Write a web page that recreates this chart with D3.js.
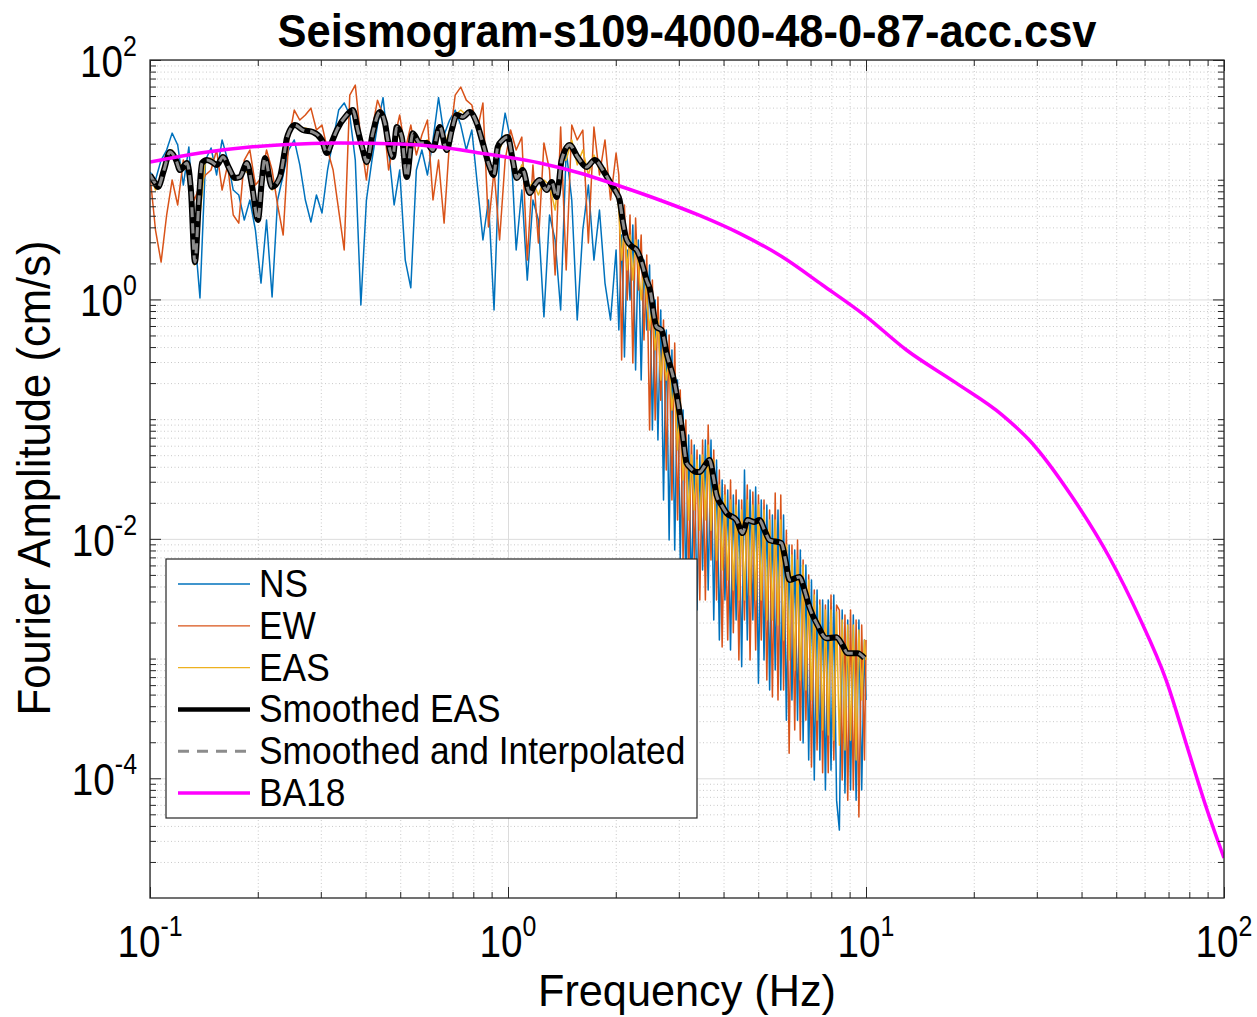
<!DOCTYPE html>
<html>
<head>
<meta charset="utf-8">
<script src="https://cdn.jsdelivr.net/npm/d3@7"></script>
<style>
  body { margin: 0; background: #fff; }
  text { font-family: "Liberation Sans", Arial, Helvetica, sans-serif; fill: #000; }
</style>
</head>
<body>
<svg width="1257" height="1017"></svg>
<script>
// shared frequency grid of the raw spectra (Hz)
const freq = [
  0.1000,0.1036,0.1074,0.1113,0.1153,0.1195,0.1239,0.1284,0.1330,0.1379,
  0.1429,0.1481,0.1535,0.1590,0.1648,0.1708,0.1770,0.1834,0.1901,0.1970,
  0.2042,0.2116,0.2193,0.2272,0.2355,0.2440,0.2529,0.2621,0.2716,0.2815,
  0.2917,0.3023,0.3133,0.3247,0.3365,0.3487,0.3614,0.3745,0.3882,0.4023,
  0.4169,0.4320,0.4477,0.4640,0.4808,0.4983,0.5164,0.5352,0.5546,0.5747,
  0.5957,0.6173,0.6397,0.6630,0.6871,0.7120,0.7379,0.7647,0.7925,0.8213,
  0.8511,0.8820,0.9141,0.9473,0.9817,1.017,1.054,1.093,1.132,1.174,
  1.216,1.260,1.306,1.354,1.403,1.454,1.507,1.561,1.618,1.677,
  1.738,1.801,1.866,1.934,2.004,
  2.040,2.077,2.115,2.153,2.192,2.232,2.272,2.313,2.355,2.398,
  2.441,2.486,2.531,2.577,2.623,2.671,2.719,2.768,2.819,2.870,
  2.922,2.975,3.028,3.083,3.139,3.196,3.254,3.313,3.373,3.434,
  3.496,3.559,3.624,3.690,3.756,3.824,3.894,3.964,4.036,4.109,
  4.184,4.260,4.337,4.415,4.495,4.577,4.660,4.744,4.830,4.918,
  5.007,5.098,5.190,5.284,5.380,5.477,5.577,5.678,5.780,5.885,
  5.992,6.100,6.211,6.323,6.438,6.554,6.673,6.794,6.917,7.042,
  7.170,7.300,7.432,7.566,7.703,7.843,7.985,8.129,8.276,8.426,
  8.579,8.734,8.892,9.053,9.217,9.384,9.554,9.727,9.903,10.0
];

const nsAmp = [
  11.6,9.94,14.6,17.7,24.5,19.5,9.03,18.8,3.80,1.03,
  14.6,18.4,10.95,21.5,14.6,8.20,7.45,4.61,6.77,3.80,
  1.37,4.61,1.05,6.77,10.95,17.7,21.5,13.3,6.77,4.43,
  7.45,5.27,12.05,21.5,38.2,43.8,34.7,14.6,0.898,6.77,
  14.6,28.6,48.5,17.7,6.15,12.05,2.13,1.25,12.05,17.7,
  10.95,21.5,48.5,23.6,31.5,38.2,28.6,17.7,26.0,9.03,
  3.14,6.77,0.815,17.7,36.0,21.5,2.59,8.20,1.45,6.77,
  4.61,0.715,5.07,3.14,0.815,17.7,6.77,0.673,3.80,9.03,
  2.13,5.58,1.37,0.673,2.59,
  0.555,3.45,0.331,2.59,0.99,4.18,0.257,3.14,0.212,2.13,
  0.555,1.94,0.0811,0.99,0.0669,0.815,0.0211,0.555,0.00977,0.378,
  0.00806,0.212,0.00665,0.119,0.00374,0.0737,0.00308,0.0608,0.00254,0.0501,
  0.00549,0.0669,0.00374,0.0669,0.00210,0.0455,0.00143,0.0310,0.00308,0.0256,
  0.00118,0.0232,0.00210,0.0211,0.000854,0.0376,0.00143,0.0256,0.00210,0.0271,
  0.000623,0.0211,0.000972,0.0192,0.000546,0.0158,0.000801,0.0174,0.000546,0.0158,
  0.000306,0.00887,0.000450,0.00806,0.000306,0.00806,0.000197,0.00604,0.000142,0.00453,
  0.0000966,0.00374,0.000142,0.00308,0.0000797,0.00308,0.000117,0.00340,0.0000657,0.0000369,
  0.00254,0.0000753,0.00210,0.0000797,0.00231,0.0000657,0.00210,0.0000797,0.00143,0.000450
];

const ewAmp = [
  10.95,3.80,2.05,5.07,9.94,6.15,14.6,10.3,6.77,9.03,
  10.95,12.05,17.7,8.20,13.3,5.07,4.34,14.6,17.7,9.03,
  10.3,17.7,12.05,6.15,3.45,21.5,38.2,31.5,34.7,39.6,
  26.0,28.6,17.7,12.05,5.58,2.59,50.9,61.7,21.5,9.94,
  26.0,46.2,34.7,12.05,21.5,34.7,17.7,28.6,16.1,23.6,
  31.5,6.77,14.6,4.34,21.5,50.9,59.4,46.2,42.1,26.0,
  43.8,4.03,12.05,3.14,14.6,26.0,17.7,22.7,2.13,13.3,
  2.96,20.3,12.05,1.60,27.5,1.76,28.6,21.5,26.0,2.96,
  27.5,10.95,21.5,6.77,16.7,
  10.95,0.312,6.15,0.99,5.07,0.295,4.78,1.20,3.45,0.458,
  2.35,0.0811,1.45,0.0983,1.05,0.144,0.673,0.0376,0.504,0.0211,
  0.433,0.0144,0.175,0.00665,0.0983,0.00453,0.0669,0.00665,0.0552,0.00308,
  0.0669,0.00308,0.0893,0.00665,0.0552,0.00308,0.0376,0.00125,0.0282,0.00143,
  0.0310,0.00164,0.0256,0.000972,0.0211,0.00210,0.0282,0.000972,0.0246,0.00118,
  0.0232,0.00143,0.0211,0.000661,0.0174,0.000478,0.0241,0.000450,0.0232,0.000546,
  0.0118,0.000162,0.00887,0.000253,0.00977,0.000208,0.00665,0.000306,0.00498,0.000124,
  0.00374,0.000172,0.00308,0.000111,0.00280,0.000111,0.00340,0.000142,0.00280,0.00254,
  0.0000966,0.00231,0.0000657,0.00254,0.0000797,0.00210,0.0000474,0.00191,0.000142,0.00143
];

const easAmp = [
  10.95,8.20,9.94,13.3,17.7,14.6,12.05,13.3,1.94,5.07,
  14.6,15.2,13.8,16.1,13.3,9.94,10.3,12.05,10.95,5.07,
  6.77,14.6,8.20,9.6,12.05,23.6,28.6,26.0,27.0,26.0,
  23.6,22.3,17.7,20.7,26.0,32.2,38.2,34.7,17.7,13.3,
  21.5,34.7,36.8,19.5,17.0,27.0,10.95,17.7,21.5,20.3,
  21.5,17.0,27.0,18.4,26.0,34.7,38.2,34.7,36.8,27.0,
  21.5,12.05,10.95,17.7,23.6,19.5,9.94,13.3,8.20,9.6,
  7.45,9.94,9.03,5.58,14.6,14.6,21.5,13.3,17.7,10.95,
  16.1,12.05,12.5,8.20,9.03,
  5.58,2.13,4.18,1.76,3.45,1.45,3.14,1.94,0.99,1.94,
  0.99,0.555,0.99,0.378,0.673,0.212,0.416,0.212,0.312,0.119,
  0.212,0.0552,0.144,0.0310,0.0669,0.0144,0.0501,0.0174,0.0455,0.0118,
  0.0501,0.0144,0.0608,0.0118,0.0455,0.00665,0.0282,0.00549,0.0232,0.00453,
  0.0211,0.00374,0.0192,0.00308,0.0174,0.00308,0.0211,0.00340,0.0192,0.00308,
  0.0192,0.00308,0.0174,0.00210,0.0144,0.00210,0.0144,0.00191,0.0144,0.00143,
  0.00887,0.000972,0.00732,0.000801,0.00665,0.000661,0.00604,0.000546,0.00453,0.000450,
  0.00340,0.000306,0.00280,0.000253,0.00254,0.000230,0.00254,0.000208,0.00245,0.000189,
  0.00210,0.000172,0.00191,0.000208,0.00191,0.000142,0.00173,0.000450,0.00143,0.000972
];

// smoothed EAS (the interpolated curve sits on top of it)
const smoothFreq = [
  0.1,0.1033,0.1053,0.1094,0.1137,0.1182,0.1213,0.1268,0.1301,0.1335,
  0.137,0.1397,0.1442,0.1489,0.1538,0.1599,0.1662,0.1727,0.1783,0.1865,
  0.1926,0.2002,0.2054,0.2094,0.219,0.2306,0.2381,0.2412,0.2539,0.2673,
  0.285,0.302,0.3119,0.3221,0.3326,0.3546,0.3686,0.3806,0.393,0.4032,
  0.4191,0.4384,0.4527,0.4615,0.4766,0.489,0.505,0.5215,0.542,0.567,
  0.5931,0.6164,0.6448,0.6745,0.6965,0.7192,0.7475,0.7818,0.8178,0.85,
  0.889,0.9122,0.9361,0.9665,0.998,1.031,1.058,1.099,1.150,1.187,
  1.226,1.282,1.324,1.368,1.412,1.487,1.565,1.658,1.746,1.862,
  1.948,2.011,2.050,2.090,2.145,2.228,2.287,2.362,2.439,2.486,
  2.600,2.685,2.773,2.919,2.976,3.073,3.153,3.214,3.362,3.428,
  3.540,3.656,3.751,3.824,3.950,4.079,4.349,4.520,4.667,4.882,
  5.041,5.206,5.375,5.805,5.956,6.112,6.520,6.733,6.950,7.317,
  7.753,8.268,8.594,8.874,9.463,9.897
];
const smoothAmp = [
  10.95,9.39,8.69,12.05,17.04,14.61,12.05,13.79,8.20,2.05,
  6.77,13.79,14.61,14.06,13.27,15.47,12.52,10.33,10.53,13.79,
  9.03,4.61,9.94,15.18,8.69,10.53,17.71,22.3,28.6,26.0,
  25.0,21.5,16.7,20.65,26.0,34.7,38.2,26.0,17.71,14.06,
  24.5,36.8,30.3,21.5,15.47,27.6,22.7,10.53,24.5,20.3,
  20.3,17.71,27.6,17.71,26.0,34.7,33.4,36.8,29.8,20.3,
  12.77,10.95,18.76,21.5,22.7,14.61,10.33,12.05,7.74,9.03,
  9.94,8.20,9.57,7.17,14.61,19.5,15.47,12.77,14.61,11.38,
  9.03,7.74,6.77,4.61,3.14,2.74,2.59,2.05,1.45,1.245,
  0.588,0.555,0.357,0.200,0.1444,0.0766,0.0430,0.0398,0.0361,0.0361,
  0.0406,0.0455,0.0322,0.0232,0.01916,0.01642,0.01436,0.01118,0.01436,0.01381,
  0.01436,0.01184,0.00977,0.00922,0.00665,0.00453,0.00480,0.00374,0.00269,0.00191,
  0.00148,0.00151,0.0013,0.00111,0.00111,0.00101
];

// BA18 model
const ba18Freq = [0.1,0.1379,0.1901,0.2622,0.3391,0.4985,0.6448,0.8336,1.226,1.585,
  2.050,2.651,3.428,4.434,5.844,7.555,9.897,12.97,17.88,24.03,
  28.58,37.68,47.79,57.97,68.93,79.89,89.13,100];
const ba18Amp = [14.06,16.71,18.76,19.87,20.26,19.87,18.76,16.71,13.79,11.38,
  8.86,6.77,5.03,3.56,2.26,1.32,0.74,0.378,0.200,0.1082,
  0.0669,0.02234,0.00705,0.00222,0.000661,0.0001624,0.0000575,0.0000216];

const xLabelExp = [-1, 0, 1, 2];
const yLabelExp = [-4, -2, 0, 2];
const legendLabels = ["NS", "EW", "EAS", "Smoothed EAS", "Smoothed and Interpolated", "BA18"];

const plotL = 150, plotR = 1224, plotT = 60, plotB = 898;
const svg = d3.select("svg");
svg.append("rect").attr("width", 1257).attr("height", 1017).attr("fill", "#fff");

const x = d3.scaleLog().domain([0.1, 100]).range([plotL, plotR]);
const y = d3.scaleLog().domain([1e-5, 1e2]).range([plotB, plotT]);

const xMajor = xLabelExp.map(e => Math.pow(10, e));
const yMajor = yLabelExp.map(e => Math.pow(10, e));
const xMinor = [];
[0.1, 1, 10].forEach(dec => { for (let m = 2; m <= 9; m++) xMinor.push(m * dec); });
const yMinor = [];
for (let n = -5; n <= 1; n++) {
  for (let m = 1; m <= 9; m++) {
    if (m === 1 && (n === -5 || n % 2 === 0)) continue;
    yMinor.push(m * Math.pow(10, n));
  }
}

// grid
function grid(g, cls) {
  g.select(".domain").remove();
  g.selectAll(".tick line").attr("class", cls);
}
const gridG = svg.append("g");
gridG.append("g").attr("transform", `translate(0,${plotB})`)
  .call(d3.axisBottom(x).tickValues(xMinor).tickSize(-(plotB - plotT)).tickFormat(""))
  .call(grid, "minor");
gridG.append("g").attr("transform", `translate(${plotL},0)`)
  .call(d3.axisLeft(y).tickValues(yMinor).tickSize(-(plotR - plotL)).tickFormat(""))
  .call(grid, "minor");
gridG.append("g").attr("transform", `translate(0,${plotB})`)
  .call(d3.axisBottom(x).tickValues(xMajor).tickSize(-(plotB - plotT)).tickFormat(""))
  .call(grid, "major");
gridG.append("g").attr("transform", `translate(${plotL},0)`)
  .call(d3.axisLeft(y).tickValues(yMajor).tickSize(-(plotR - plotL)).tickFormat(""))
  .call(grid, "major");
gridG.selectAll("line.minor").attr("stroke", "#c9c9c9").attr("stroke-width", 1).attr("stroke-dasharray", "1,2.5");
gridG.selectAll("line.major").attr("stroke", "#dcdcdc").attr("stroke-width", 1);

// data
svg.append("clipPath").attr("id", "plot-clip")
  .append("rect").attr("x", plotL).attr("y", plotT).attr("width", plotR - plotL).attr("height", plotB - plotT);
const plot = svg.append("g").attr("clip-path", "url(#plot-clip)");

const line = d3.line().x(d => x(d[0])).y(d => y(d[1])).defined(d => d[1] != null);
const smoothLine = d3.line().x(d => x(d[0])).y(d => y(d[1])).curve(d3.curveMonotoneX);

const rawSeries = [
  { amp: nsAmp, color: "#0072BD" },
  { amp: ewAmp, color: "#D95319" },
  { amp: easAmp, color: "#EDB120" }
];
rawSeries.forEach(s => {
  plot.append("path")
    .datum(freq.map((f, i) => [f, s.amp[i]]))
    .attr("d", line)
    .attr("fill", "none")
    .attr("stroke", s.color)
    .attr("stroke-width", 1.5)
    .attr("stroke-linejoin", "round");
});

const smoothData = smoothFreq.map((f, i) => [f, smoothAmp[i]]);
plot.append("path").datum(smoothData).attr("d", smoothLine)
  .attr("fill", "none").attr("stroke", "#000").attr("stroke-width", 6).attr("stroke-linejoin", "round");
plot.append("path").datum(smoothData).attr("d", smoothLine)
  .attr("fill", "none").attr("stroke", "#8c8c8c").attr("stroke-width", 3).attr("stroke-dasharray", "10,6");
plot.append("path").datum(ba18Freq.map((f, i) => [f, ba18Amp[i]])).attr("d", smoothLine)
  .attr("fill", "none").attr("stroke", "#FF00FF").attr("stroke-width", 3.5);

// frame and inward ticks on all four sides
function ticks(g) { g.select(".domain").remove(); g.selectAll(".tick line").attr("stroke", "#262626"); }
const axG = svg.append("g");
[[d3.axisBottom, plotB], [d3.axisTop, plotT]].forEach(([ax, pos]) => {
  axG.append("g").attr("transform", `translate(0,${pos})`)
    .call(ax(x).tickValues(xMinor).tickSize(-6).tickSizeOuter(0).tickFormat("")).call(ticks);
  axG.append("g").attr("transform", `translate(0,${pos})`)
    .call(ax(x).tickValues(xMajor).tickSize(-11).tickSizeOuter(0).tickFormat("")).call(ticks);
});
[[d3.axisLeft, plotL], [d3.axisRight, plotR]].forEach(([ax, pos]) => {
  axG.append("g").attr("transform", `translate(${pos},0)`)
    .call(ax(y).tickValues(yMinor).tickSize(-6).tickSizeOuter(0).tickFormat("")).call(ticks);
  axG.append("g").attr("transform", `translate(${pos},0)`)
    .call(ax(y).tickValues(yMajor).tickSize(-11).tickSizeOuter(0).tickFormat("")).call(ticks);
});
svg.append("rect").attr("x", plotL).attr("y", plotT).attr("width", plotR - plotL).attr("height", plotB - plotT)
  .attr("fill", "none").attr("stroke", "#262626").attr("stroke-width", 1.3);

// tick labels 10^n
function powLabel(sel, e) {
  sel.append("tspan").text("10");
  sel.append("tspan").attr("dy", -21).attr("font-size", 29).text(String(e));
}
svg.append("g").selectAll("text").data(xLabelExp).join("text")
  .attr("transform", d => `translate(${x(Math.pow(10, d))},957) scale(0.86,1)`)
  .attr("text-anchor", "middle").attr("font-size", 45)
  .each(function (d) { powLabel(d3.select(this), d); });
svg.append("g").selectAll("text").data(yLabelExp).join("text")
  .attr("transform", d => `translate(137,${y(Math.pow(10, d)) + 17}) scale(0.86,1)`)
  .attr("text-anchor", "end").attr("font-size", 45)
  .each(function (d) { powLabel(d3.select(this), d); });

// titles
svg.append("text").attr("x", 687).attr("y", 47).attr("text-anchor", "middle")
  .attr("font-size", 46).attr("font-weight", "bold")
  .attr("textLength", 819).attr("lengthAdjust", "spacingAndGlyphs")
  .text("Seismogram-s109-4000-48-0-87-acc.csv");
svg.append("text").attr("x", 687).attr("y", 1006).attr("text-anchor", "middle")
  .attr("font-size", 45).attr("textLength", 298).attr("lengthAdjust", "spacingAndGlyphs")
  .text("Frequency (Hz)");
svg.append("text").attr("transform", "translate(50,478) rotate(-90)").attr("text-anchor", "middle")
  .attr("font-size", 46).attr("textLength", 475).attr("lengthAdjust", "spacingAndGlyphs")
  .text("Fourier Amplitude (cm/s)");

// legend
const legendStyles = [
  { color: "#0072BD", width: 1.3 },
  { color: "#D95319", width: 1.3 },
  { color: "#EDB120", width: 1.3 },
  { color: "#000", width: 4.5 },
  { color: "#8c8c8c", width: 3, dash: "11,8" },
  { color: "#FF00FF", width: 3.5 }
];
const lg = svg.append("g");
lg.append("rect").attr("x", 166).attr("y", 559).attr("width", 531).attr("height", 259)
  .attr("fill", "#fff").attr("stroke", "#262626").attr("stroke-width", 1.2);
const rows = lg.selectAll("g").data(legendLabels).join("g")
  .attr("transform", (d, i) => `translate(0,${584 + i * 41.8})`);
rows.append("line").attr("x1", 178).attr("x2", 250)
  .attr("stroke", (d, i) => legendStyles[i].color)
  .attr("stroke-width", (d, i) => legendStyles[i].width)
  .attr("stroke-dasharray", (d, i) => legendStyles[i].dash || null);
rows.append("text").attr("transform", "translate(259,13) scale(0.93,1)")
  .attr("font-size", 38).text(d => d);
</script>
</body>
</html>
